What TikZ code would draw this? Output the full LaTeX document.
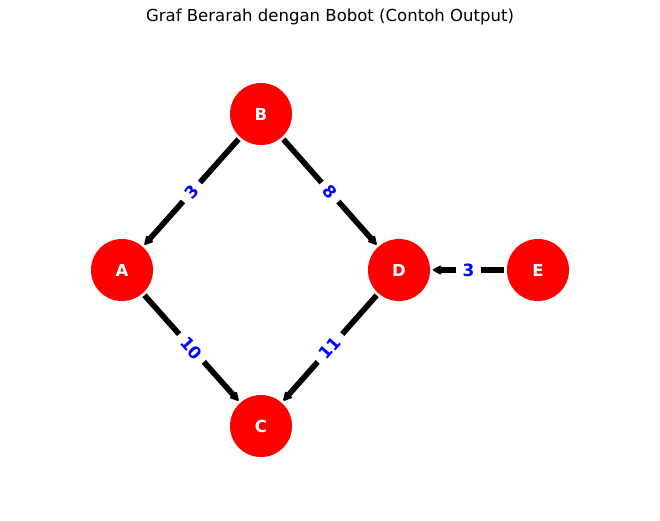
\documentclass[tikz,border=0pt]{standalone}
\usepackage{fontspec}
\setmainfont{DejaVu Sans}
\usetikzlibrary{arrows.meta}
\usetikzlibrary{positioning}
\tikzset{
  simpul/.style = {circle, fill=red, draw=none, minimum size=0.62cm,
    inner sep=0pt, text=white, font=\fontsize{4.7}{5.6}\selectfont\bfseries},% simpul merah
  bobot/.style = {fill=white, text=blue, inner sep=1.9pt, sloped,
    font=\fontsize{4.8}{5.7}\selectfont\bfseries},% label bobot
  judul/.style = {font=\fontsize{4.7}{5.6}\selectfont}% judul
}

\begin{document}
\begin{tikzpicture}[x=0.01cm,y=-0.01cm,->,>={Stealth[round,length=3.2pt,width=3.4pt]},
  line width=1.6pt]
\useasboundingbox (0,0) rectangle (660,520);
\node [judul] (title) at (330,17) {Graf Berarah dengan Bobot (Contoh Output)};
\node [simpul] (B) at (261,114) {B};
\node [simpul] (A) at (122,270) {A};
\node [simpul] (D) at (399,270) {D};
\node [simpul] (E) at (538,270) {E};
\node [simpul] (C) at (261,426) {C};

\draw (B) -- node [bobot] {3} (A);
\draw (B) -- node [bobot] {8} (D);
\draw (A) -- node [bobot] {10} (C);
\draw (D) -- node [bobot] {11} (C);
\draw (E) -- node [bobot] {3} (D);
\end{tikzpicture}
\end{document}
